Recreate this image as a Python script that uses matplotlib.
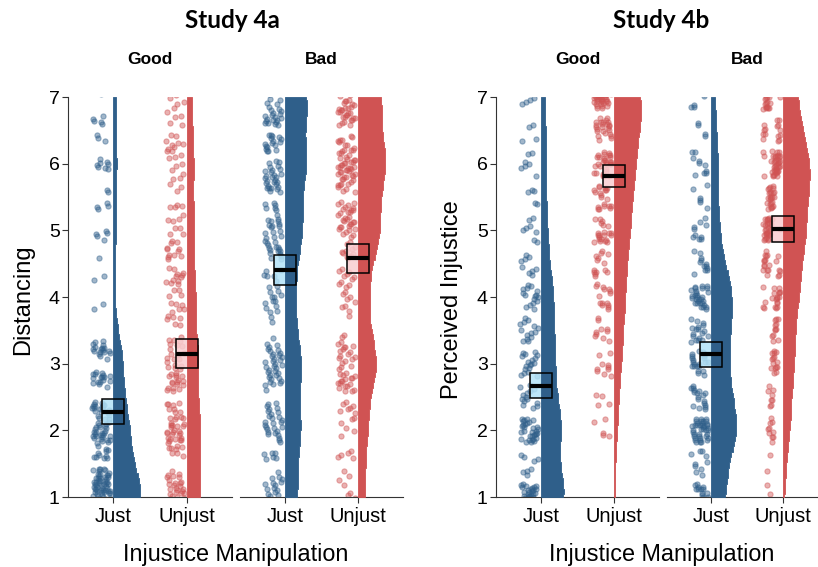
import numpy as np
import matplotlib
matplotlib.use("Agg")
import matplotlib.pyplot as plt
from matplotlib.patches import Rectangle

plt.rcParams["font.family"] = ["Liberation Sans", "DejaVu Sans"]

conditions = ["Just", "Unjust"]
facets = ["Good", "Bad"]

# Response levels of each study's scale
levels_4a = [1, 2, 3, 4, 5, 6, 7]
levels_4b = [1.0, 1.5, 2.0, 2.5, 3.0, 3.5, 4.0, 4.5, 5.0, 5.5, 6.0, 6.5, 7.0]

# Number of participants at each level (Study 4a: Distancing)
s4a_good_just = [110, 60, 35, 4, 10, 13, 10]
s4a_good_unjust = [46, 44, 38, 28, 24, 22, 18]
s4a_bad_just = [28, 34, 36, 22, 38, 46, 50]
s4a_bad_unjust = [14, 18, 38, 20, 44, 56, 48]

# Number of participants at each level (Study 4b: Perceived Injustice)
s4b_good_just = [45, 8, 32, 14, 18, 14, 16, 9, 8, 5, 7, 4, 7]
s4b_good_unjust = [1, 0, 5, 4, 10, 10, 15, 14, 22, 20, 30, 25, 50]
s4b_bad_just = [24, 10, 40, 18, 22, 18, 30, 12, 10, 6, 10, 4, 6]
s4b_bad_unjust = [2, 2, 10, 8, 15, 12, 20, 20, 30, 25, 40, 15, 25]

# Condition means and 95% CI half-widths (Good facet, Bad facet) x (Just, Unjust)
means_4a = [[2.28, 3.15], [4.41, 4.58]]
ci_4a = [[0.19, 0.22], [0.225, 0.22]]
means_4b = [[2.67, 5.81], [3.14, 5.02]]
ci_4b = [[0.19, 0.165], [0.19, 0.19]]

studies = [
    dict(title="Study 4a", ylabel="Distancing", levels=levels_4a,
         counts=[[s4a_good_just, s4a_good_unjust], [s4a_bad_just, s4a_bad_unjust]],
         means=means_4a, ci=ci_4a, jit_h=0.43, bw=0.45,
         axes_px=[(68, 232), (240, 403)], ylab_x=23),
    dict(title="Study 4b", ylabel="Perceived Injustice", levels=levels_4b,
         counts=[[s4b_good_just, s4b_good_unjust], [s4b_bad_just, s4b_bad_unjust]],
         means=means_4b, ci=ci_4b, jit_h=0.19, bw=0.40,
         axes_px=[(496, 659), (667, 827)], ylab_x=452),
]

dark = ["#2f5f8a", "#d05353"]
light = ["#b3e2f7", "#f9cdd0"]

W, H = 818, 567
TOP, BOT = 97, 497


def kde(values, grid, bw):
    n = len(values)
    z = (grid[:, None] - values[None, :]) / bw
    return np.exp(-0.5 * z ** 2).sum(axis=1) / (n * bw * np.sqrt(2 * np.pi))


def spread(n, offset):
    # low-discrepancy (R2) sequence used for jitter placement
    g = 1.32471795724474602596
    a1, a2 = 1.0 / g, 1.0 / g ** 2
    k = np.arange(n) + offset
    return (0.5 + a1 * k) % 1.0, (0.5 + a2 * k) % 1.0


fig = plt.figure(figsize=(W / 100, H / 100), dpi=100)

for s_idx, st in enumerate(studies):
    lv = np.array(st["levels"], dtype=float)
    for f_idx, (l_px, r_px) in enumerate(st["axes_px"]):
        ax = fig.add_axes([l_px / W, 1 - BOT / H, (r_px - l_px) / W, (BOT - TOP) / H])
        ax.set_xlim(0.39, 2.61)
        ax.set_ylim(1, 7)

        groups = []
        for c_idx in range(2):
            vals = np.repeat(lv, st["counts"][f_idx][c_idx])
            grid = np.arange(vals.min(), vals.max() + 1e-9, 0.08)
            groups.append((vals, grid, kde(vals, grid, st["bw"])))
        dmax = max(g[2].max() for g in groups)

        for c_idx, (vals, grid, dens) in enumerate(groups):
            pos = c_idx + 1
            u, v = spread(len(vals), 7 * (s_idx * 4 + f_idx * 2 + c_idx) + 1)
            order = np.argsort((np.arange(len(vals)) * 0.6180339887) % 1.0)
            px = pos - 0.16 + 0.12 * (2 * u - 1)
            py = vals[order] + st["jit_h"] * (2 * v - 1)
            ax.scatter(px, py, s=14, facecolor=dark[c_idx], alpha=0.45,
                       edgecolor=dark[c_idx], linewidth=0.8, zorder=2)

            m = st["means"][f_idx][c_idx]
            h = st["ci"][f_idx][c_idx]
            ax.add_patch(Rectangle((pos - 0.15, m - h), 0.30, 2 * h,
                                   facecolor=light[c_idx], edgecolor="none",
                                   alpha=0.85, zorder=3))

            width = dens / dmax * 0.37
            ax.fill_betweenx(grid, pos, pos + width, step="mid",
                             facecolor=dark[c_idx], edgecolor=dark[c_idx],
                             linewidth=0.6, zorder=4)

            ax.add_patch(Rectangle((pos - 0.15, m - h), 0.30, 2 * h,
                                   facecolor="none", edgecolor="black",
                                   linewidth=1.1, zorder=6))
            ax.plot([pos - 0.15, pos + 0.15], [m, m], color="black",
                    linewidth=3, solid_capstyle="butt", zorder=7)

        for side in ["top", "right"]:
            ax.spines[side].set_visible(False)
        ax.spines["bottom"].set_color("#333333")
        ax.spines["left"].set_color("#333333")
        ax.set_xticks([1, 2])
        ax.set_xticklabels(conditions, fontsize=14.5)
        ax.tick_params(axis="x", length=4, color="#333333", pad=3)
        if f_idx == 0:
            ax.set_yticks(range(1, 8))
            ax.set_yticklabels([str(t) for t in range(1, 8)], fontsize=14)
            ax.tick_params(axis="y", length=4, color="#333333", pad=2)
        else:
            ax.spines["left"].set_visible(False)
            ax.set_yticks([])

        fig.text((l_px + r_px) / 2 / W, 1 - 59 / H, facets[f_idx],
                 ha="center", va="center", fontsize=12.5, fontweight="bold")

    (l0, _), (_, r1) = st["axes_px"]
    fig.text((l0 + r1) / 2 / W - (0.004 if s_idx == 0 else 0.0), 1 - 20 / H, st["title"],
             ha="center", va="center", fontsize=17.5, fontweight="bold",
             family=["Lato", "DejaVu Sans"])
    fig.text((l0 + r1) / 2 / W, 1 - 554 / H, "Injustice Manipulation",
             ha="center", va="center", fontsize=16.8)
    fig.text(st["ylab_x"] / W, 1 - 300 / H, st["ylabel"], rotation=90,
             ha="center", va="center", fontsize=17)

fig.savefig("out.png", dpi=100)
